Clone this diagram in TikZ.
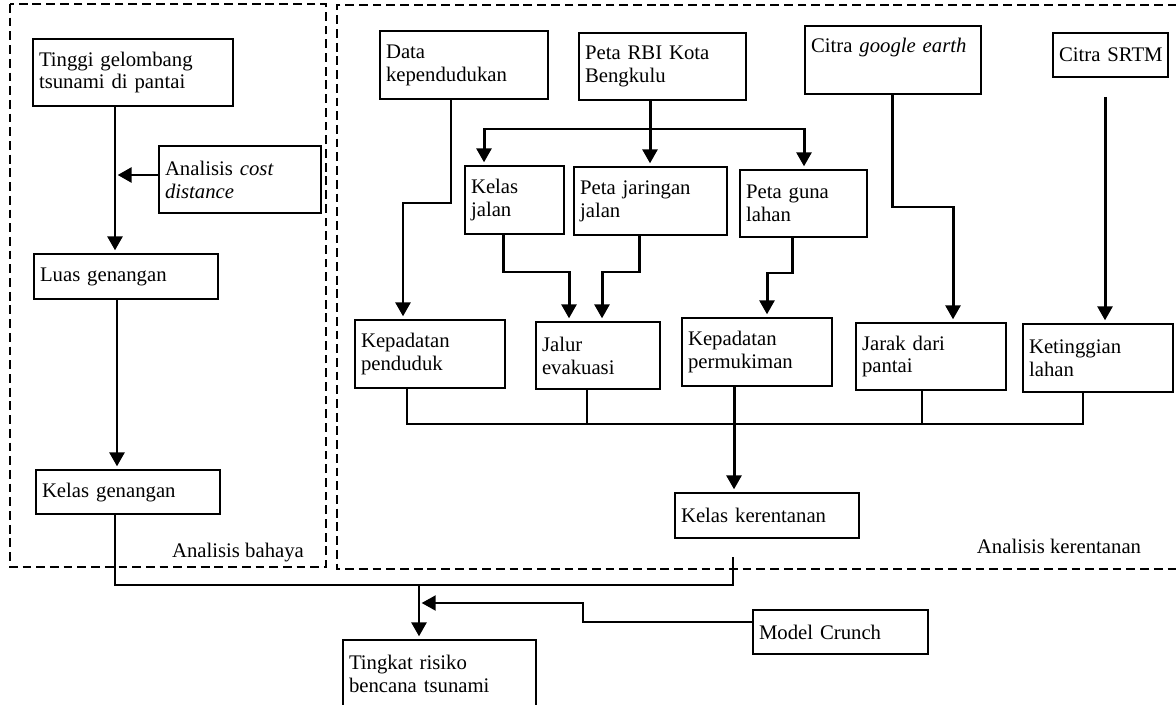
\documentclass[tikz,border=0pt]{standalone}
\usepackage{fontspec}
\setmainfont{Liberation Serif}
\usetikzlibrary{arrows.meta}
\newcommand{\mkbox}[6]{%
  \pgfmathsetmacro{\bxw}{(#4-#2)*0.02*28.45276-2*3.4}%
  \pgfmathsetmacro{\bxh}{(#5-#3)*0.02*28.45276}%
  \node[box,text width=\bxw pt,minimum height=\bxh pt] (#1) at (#2,#3) {#6};}
\begin{document}
\begin{tikzpicture}[x=0.02cm,y=-0.02cm,
  box/.style={draw,line width=1.2pt,inner xsep=3.4pt,inner ysep=2pt,align=left,anchor=north west,font=\fontsize{11.8pt}{13pt}\selectfont},
  arr/.style={line width=1.7pt,-{Triangle[width=8.5pt,length=8pt]},shorten >=1.5pt},
  ln/.style={line width=1.1pt},
  thinln/.style={line width=0.9pt},
  region/.style={line width=1.1pt,dash pattern=on 5pt off 2.8pt},
  lbl/.style={anchor=base,font=\fontsize{11.8pt}{13pt}\selectfont}]
\useasboundingbox (0,0) rectangle (1176,705);
% regions
\draw[region] (10,4) rectangle (326,567);
\draw[region] (1190,5) -- (337,5) -- (337,569) -- (1190,569);
\node[lbl] (lb1) at (238,557) {Analisis bahaya};
\node[lbl] (lb2) at (1059,553) {Analisis kerentanan};
% boxes
\mkbox{tinggi}{32}{38}{232}{105}{Tinggi~gelombang\\tsunami~di~pantai}
\mkbox{cost}{158}{145}{320}{212}{Analisis~\textit{cost}\\\textit{distance}}
\mkbox{luas}{33}{253}{217}{298}{Luas~genangan}
\mkbox{kgen}{35}{469}{219}{513}{Kelas~genangan}
\mkbox{data}{379}{30}{547}{98}{Data\\kependudukan}
\mkbox{rbi}{578}{32}{745}{99}{Peta~RBI~Kota\\Bengkulu}
\mkbox{ge}{804}{25}{980}{93}{Citra~\textit{google~earth}\\\strut}
\mkbox{srtm}{1052}{32}{1167}{76}{Citra~SRTM}
\mkbox{kjal}{464}{165}{563}{233}{Kelas\\jalan}
\mkbox{pjar}{573}{166}{726}{234}{Peta~jaringan\\jalan}
\mkbox{pguna}{739}{169}{866}{236}{Peta~guna\\lahan}
\mkbox{kpend}{354}{319}{504}{387}{Kepadatan\\penduduk}
\mkbox{jalur}{535}{321}{659}{388}{Jalur\\evakuasi}
\mkbox{kperm}{681}{317}{831}{385}{Kepadatan\\permukiman}
\mkbox{jarak}{855}{322}{1005}{389}{Jarak~dari\\pantai}
\mkbox{ketg}{1022}{323}{1172}{391}{Ketinggian\\lahan}
\mkbox{kker}{674}{492}{858}{537}{Kelas~kerentanan}
\mkbox{tingkat}{342}{639}{535}{707}{Tingkat~risiko\\bencana~tsunami}
\mkbox{model}{752}{609}{927}{653}{Model~Crunch}
% hazard branch
\draw[arr] (tinggi.south -| 115,0) -- (luas.north -| 115,0);
\draw[arr] (cost.west |- 0,175) -- (115,175);
\draw[arr] (luas.south -| 117,0) -- (kgen.north -| 117,0);
% vulnerability inputs
\draw[arr] (data.south -| 451,0) |- (403,203) -- (kpend.north -| 403,0);
\coordinate (br) at (650,129);
\draw[arr] (rbi.south -| 650,0) -- (pjar.north -| 650,0);
\draw[arr] (br) -| (kjal.north -| 484,0);
\draw[arr] (br) -| (pguna.north -| 804,0);
\draw[arr] (kjal.south -| 503,0) |- (569,272) -- (jalur.north -| 569,0);
\draw[arr] (pjar.south -| 639,0) |- (602,272) -- (jalur.north -| 602,0);
\draw[arr] (pguna.south -| 792,0) |- (767,273) -- (kperm.north -| 767,0);
\draw[arr] (ge.south -| 892,0) |- (953,207) -- (jarak.north -| 953,0);
\coordinate (sr) at (1105,97);
\draw[arr] (sr) -- (ketg.north -| 1105,0);
% bus
\draw[thinln] (kpend.south -| 407,0) -- (407,424) -- (1083,424) -- (ketg.south -| 1083,0);
\draw[thinln] (jalur.south -| 587,0) -- (587,424);
\draw[thinln] (jarak.south -| 922,0) -- (922,424);
\draw[arr] (kperm.south -| 734,0) -- (kker.north -| 734,0);
% risk
\coordinate (kk) at (733,557);
\coordinate (jn) at (419,585);
\draw[ln] (kgen.south -| 115,0) |- (kk |- jn) -- (kk);
\draw[arr] (jn) -- (tingkat.north -| 419,0);
\draw[arr,line width=1.3pt] (model.west |- 0,622) -- (583,622) -- (583,603) -- (419,603);
\end{tikzpicture}
\end{document}
